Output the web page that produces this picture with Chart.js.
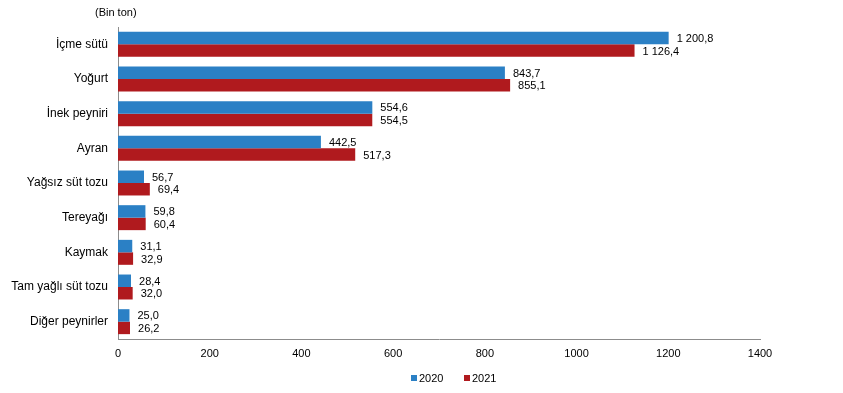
<!DOCTYPE html>
<html>
<head>
<meta charset="utf-8">
<script src="https://cdn.jsdelivr.net/npm/chart.js@4/dist/chart.umd.min.js"></script>
<style>
html,body{margin:0;padding:0;background:#fff}
#wrap{width:843px;height:393px;position:relative}
</style>
</head>
<body>
<div id="wrap"><canvas id="c"></canvas></div>
<script>
// values (bin ton)
const categories=['İçme sütü','Yoğurt','İnek peyniri','Ayran','Yağsız süt tozu','Tereyağı','Kaymak','Tam yağlı süt tozu','Diğer peynirler']
const values2020=[1200.8,843.7,554.6,442.5,56.7,59.8,31.1,28.4,25.0]
const values2021=[1126.4,855.1,554.5,517.3,69.4,60.4,32.9,32.0,26.2]
const seriesNames=['2020','2021']
const xTicks=[0,200,400,600,800,1000,1200,1400]

const FONT='"Liberation Sans", Arial, sans-serif'
const BLUE='#2b80c5'
const RED='#b01a1e'
const AXIS='#8c8c8c'

function fmt(v){
  let s=v.toFixed(1).replace('.',',')
  let parts=s.split(',')
  parts[0]=parts[0].replace(/\B(?=(\d{3})+(?!\d))/g,' ')
  return parts.join(',')
}

// value labels, unit caption and legend
const extras={
  id:'extras',
  afterDatasetsDraw(chart){
    const ctx=chart.ctx
    ctx.save()
    ctx.font='11px '+FONT
    ctx.fillStyle='#000'
    ctx.textBaseline='middle'
    ctx.textAlign='left'
    chart.data.datasets.forEach((ds,i)=>{
      chart.getDatasetMeta(i).data.forEach((bar,j)=>{
        ctx.fillText(fmt(ds.data[j]),bar.x+8,bar.y+1)
      })
    })
    ctx.fillText('(Bin ton)',95,13)
    // legend
    let x=411
    chart.data.datasets.forEach(ds=>{
      ctx.fillStyle=ds.backgroundColor
      ctx.fillRect(x,375,6,6)
      ctx.fillStyle='#000'
      ctx.fillText(ds.label,x+8,378.5)
      x+=53
    })
    ctx.restore()
  }
}

new Chart(document.getElementById('c'),{
  type:'bar',
  data:{
    labels:categories,
    datasets:[
      {label:seriesNames[0],data:values2020,backgroundColor:BLUE,barPercentage:1,categoryPercentage:0.72},
      {label:seriesNames[1],data:values2021,backgroundColor:RED,barPercentage:1,categoryPercentage:0.72}
    ]
  },
  options:{
    indexAxis:'y',
    responsive:true,
    maintainAspectRatio:false,
    animation:false,
    layout:{padding:{top:27,right:83,left:0,bottom:0}},
    scales:{
      x:{
        min:0,max:1400,
        afterBuildTicks(axis){axis.ticks=xTicks.map(v=>({value:v}))},
        afterFit(axis){axis.height=54},
        grid:{display:false,drawOnChartArea:false,drawTicks:true,tickLength:5,color:AXIS},
        border:{display:true,color:AXIS},
        ticks:{font:{family:FONT,size:11},color:'#000',padding:3,maxRotation:0,callback:v=>String(v)}
      },
      y:{
        afterFit(axis){axis.width=118},
        grid:{display:false},
        border:{display:true,color:AXIS},
        ticks:{font:{family:FONT,size:12},color:'#000',padding:2}
      }
    },
    plugins:{
      legend:{display:false},
      tooltip:{enabled:false}
    }
  },
  plugins:[extras]
})
</script>
</body>
</html>
